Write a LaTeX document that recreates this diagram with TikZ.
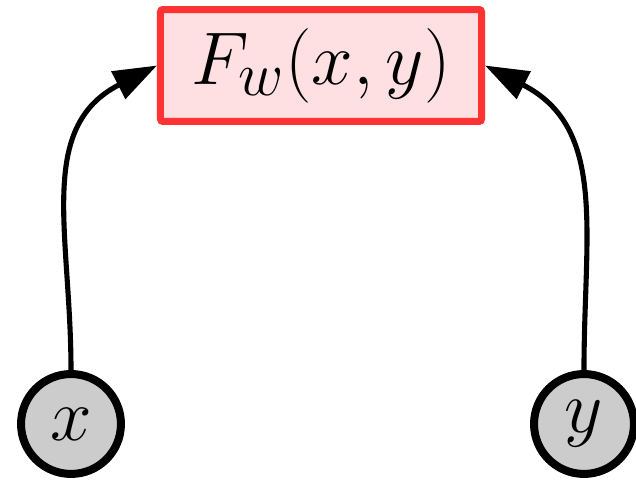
\documentclass[tikz,border=0pt]{standalone}
\usetikzlibrary{arrows.meta}
\definecolor{boxred}{HTML}{FF3333}
\definecolor{boxfill}{HTML}{FFE0E2}
\definecolor{varfill}{HTML}{CCCCCC}
\begin{document}
\begin{tikzpicture}[x=0.3333pt,y=0.3333pt,
  fbox/.style={draw=boxred, fill=boxfill, line width=2.33pt, rounded corners=0.8pt,
    minimum width=107pt, minimum height=37.3pt, inner sep=0pt, font=\Huge},
  var/.style={circle, draw=black, fill=varfill, line width=2.67pt,
    minimum size=33.3pt, inner sep=0pt, font=\Huge},
  conn/.style={line width=1.7pt, -{Triangle[length=14.5pt,width=10pt]}}]
\useasboundingbox (0,0) rectangle (636,482);
\node[fbox] (F) at (321,416.5) {$F_w(x,y)$\hspace{10.5pt}};
\node[var] (x) at (71,58) {$x$};
\node[var] (y) at (584,58) {$y$};
\draw[conn] (x) to[out=90,in=207,looseness=1.1] (F.west);
\draw[conn] (y) to[out=90,in=-27,looseness=1.1] (F.east);
\end{tikzpicture}
\end{document}
